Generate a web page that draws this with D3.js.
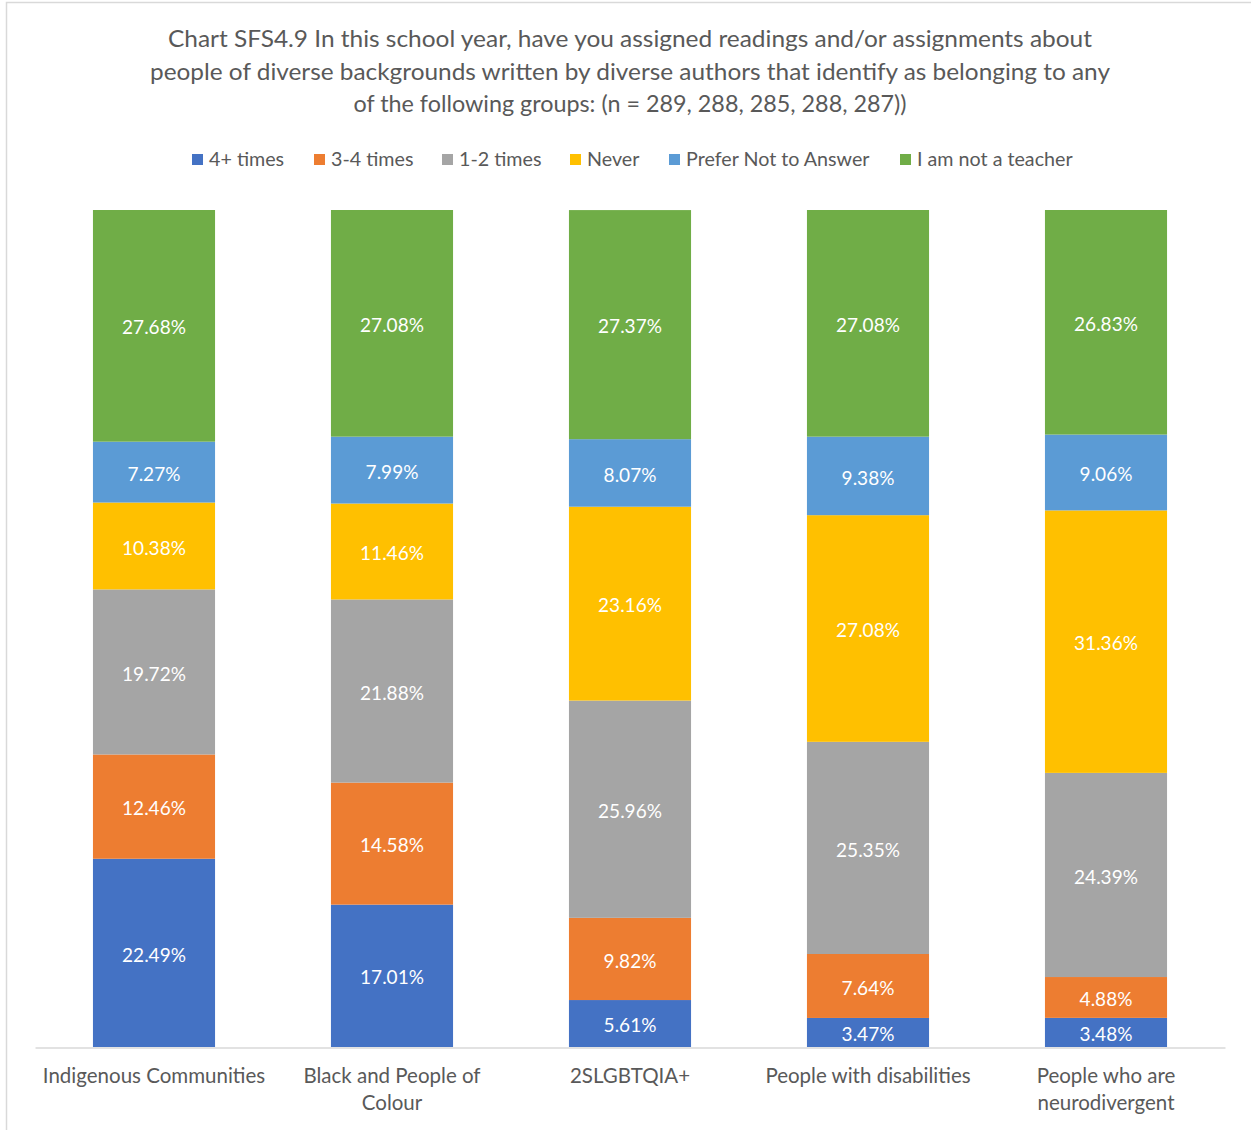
<!DOCTYPE html>
<html>
<head>
<meta charset="utf-8">
<script src="https://cdn.jsdelivr.net/npm/d3@7"></script>
<style>
  html, body { margin: 0; padding: 0; background: #fff; }
  svg { display: block; font-family: Lato, "Open Sans", sans-serif; }
</style>
</head>
<body>
<svg id="chart" width="1251" height="1130"></svg>
<script>
// Response categories (stack order, bottom to top)
const seriesNames = ["4+ times", "3-4 times", "1-2 times", "Never", "Prefer Not to Answer", "I am not a teacher"];
const seriesColors = ["#4472C4", "#ED7D31", "#A5A5A5", "#FFC000", "#5B9BD5", "#70AD47"];

// Groups on the x axis
const categories = [
  ["Indigenous Communities"],
  ["Black and People of", "Colour"],
  ["2SLGBTQIA+"],
  ["People with disabilities"],
  ["People who are", "neurodivergent"]
];

// Percentages per group, one array per response category
const times4plus   = [22.49, 17.01, 5.61, 3.47, 3.48];
const times3to4    = [12.46, 14.58, 9.82, 7.64, 4.88];
const times1to2    = [19.72, 21.88, 25.96, 25.35, 24.39];
const never        = [10.38, 11.46, 23.16, 27.08, 31.36];
const preferNot    = [7.27, 7.99, 8.07, 9.38, 9.06];
const notTeacher   = [27.68, 27.08, 27.37, 27.08, 26.83];

const titleLines = [
  "Chart SFS4.9 In this school year, have you assigned readings and/or assignments about",
  "people of diverse backgrounds written by diverse authors that identify as belonging to any",
  "of the following groups: (n = 289, 288, 285, 288, 287))"
];

const seriesValues = [times4plus, times3to4, times1to2, never, preferNot, notTeacher];
const rows = categories.map((c, i) => {
  const r = { key: c.join(" ") };
  seriesNames.forEach((s, j) => { r[s] = seriesValues[j][i]; });
  return r;
});

const svg = d3.select("#chart");
const W = 1251, H = 1130;

// chart area border (only top and left edges fall inside the canvas)
svg.append("rect")
  .attr("x", 6.5).attr("y", 2.5)
  .attr("width", W + 20).attr("height", H + 20)
  .attr("fill", "#fff").attr("stroke", "#d9d9d9").attr("stroke-width", 1.5);

const textColor = "#595959";

// title
const title = svg.append("g");
const titleWidths = [924, 960, 553];
titleLines.forEach((t, i) => {
  title.append("text")
    .attr("x", 630).attr("y", 47 + i * 32.5)
    .attr("text-anchor", "middle")
    .attr("font-size", 23)
    .attr("fill", textColor)
    .attr("textLength", titleWidths[i])
    .attr("lengthAdjust", "spacingAndGlyphs")
    .text(t);
});

// legend
const legendX = [192, 314, 442, 570, 669, 900];
const legend = svg.append("g");
seriesNames.forEach((s, i) => {
  legend.append("rect")
    .attr("x", legendX[i]).attr("y", 154)
    .attr("width", 11).attr("height", 11)
    .attr("fill", seriesColors[i]);
  legend.append("text")
    .attr("x", legendX[i] + 17).attr("y", 166)
    .attr("font-size", 19.7)
    .attr("fill", textColor)
    .text(s);
});

// scales
const x = d3.scaleBand()
  .domain(rows.map(r => r.key))
  .range([35, 1225])
  .paddingInner(0.487)
  .paddingOuter(0.2435);

const y = d3.scaleLinear().domain([0, 100]).range([1047, 210]);

const stack = d3.stack().keys(seriesNames);
const stacked = stack(rows);

const bars = svg.append("g");
stacked.forEach((layer, li) => {
  const g = bars.append("g").attr("fill", seriesColors[li]);
  g.selectAll("rect")
    .data(layer)
    .join("rect")
    .attr("x", d => x(d.data.key))
    .attr("width", x.bandwidth())
    .attr("y", d => y(d[1]))
    .attr("height", d => y(d[0]) - y(d[1]));
  g.selectAll("text")
    .data(layer)
    .join("text")
    .attr("x", d => x(d.data.key) + x.bandwidth() / 2)
    .attr("y", d => (y(d[0]) + y(d[1])) / 2 + 2)
    .attr("dy", "0.35em")
    .attr("text-anchor", "middle")
    .attr("font-size", 19)
    .attr("fill", "#fff")
    .text(d => (d[1] - d[0]).toFixed(2) + "%");
});

// baseline axis
const axis = svg.append("g")
  .attr("transform", "translate(0,1047.5)")
  .call(d3.axisBottom(x).tickSize(0).tickFormat(""));
axis.select(".domain").attr("stroke", "#d9d9d9").attr("stroke-width", 1.5);

// category labels (wrapped)
const catLabels = svg.append("g");
categories.forEach((lines, i) => {
  const cx = x(rows[i].key) + x.bandwidth() / 2;
  lines.forEach((ln, k) => {
    catLabels.append("text")
      .attr("x", cx).attr("y", 1083 + k * 27)
      .attr("text-anchor", "middle")
      .attr("font-size", 20.5)
      .attr("fill", textColor)
      .text(ln);
  });
});
</script>
</body>
</html>
